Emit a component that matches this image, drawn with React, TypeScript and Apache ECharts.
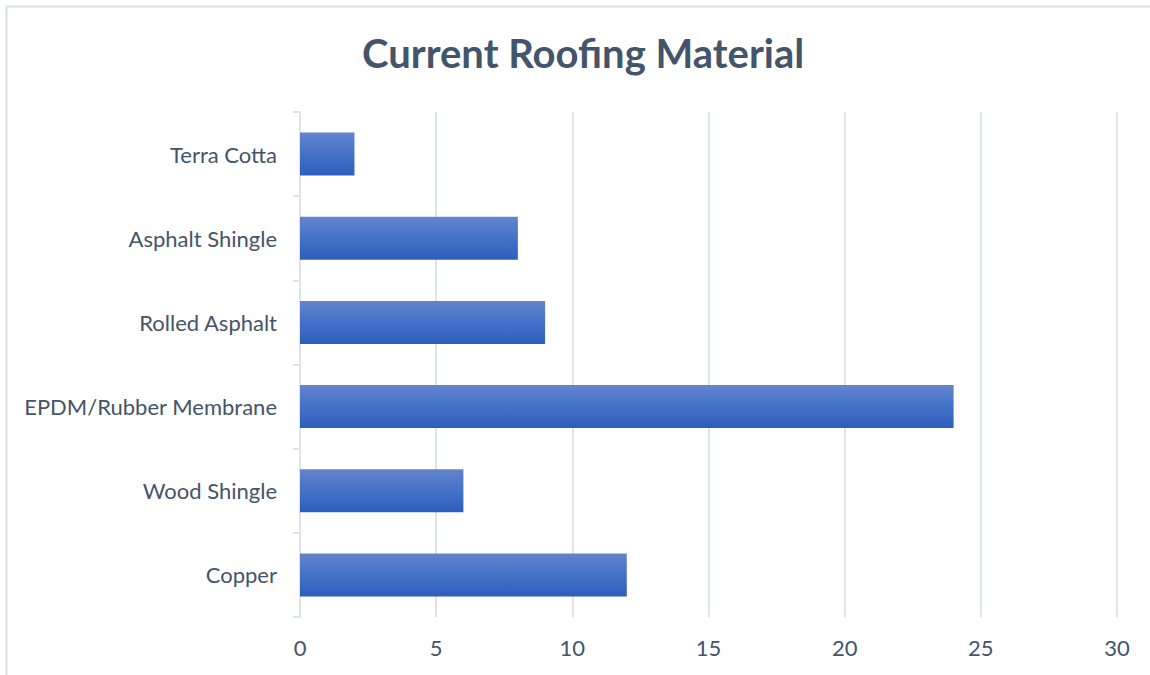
import React, { useEffect, useRef } from "react";
import * as echarts from "echarts";

const categories = ["Copper", "Wood Shingle", "EPDM/Rubber Membrane", "Rolled Asphalt", "Asphalt Shingle", "Terra Cotta"];
const values = [12, 6, 24, 9, 8, 2];
const xTicks = { min: 0, max: 30, interval: 5 };
const title = "Current Roofing Material";

export default function App() {
  const ref = useRef<HTMLDivElement>(null);
  useEffect(() => {
    const chart = echarts.init(ref.current!, null, { renderer: "svg" });
    const font = "Lato, 'Open Sans', sans-serif";
    const textColor = "#44546A";
    chart.setOption({
      animation: false,
      backgroundColor: "#ffffff",
      title: {
        text: title,
        left: 362,
        top: 33,
        padding: 0,
        textStyle: { fontFamily: font, fontSize: 40, fontWeight: "bold", color: textColor },
      },
      graphic: [
        {
          type: "rect",
          shape: { x: 6.5, y: 6.5, width: 1300, height: 800 },
          style: { fill: "none", stroke: "#DADFE6", lineWidth: 2 },
          silent: true,
        },
      ],
      grid: { left: 300, right: 33, top: 112, bottom: 58, containLabel: false },
      xAxis: {
        type: "value",
        min: xTicks.min,
        max: xTicks.max,
        interval: xTicks.interval,
        axisLine: { show: false },
        axisTick: { show: false },
        axisLabel: { fontFamily: font, fontSize: 22, color: textColor, margin: 19 },
        splitLine: { show: true, lineStyle: { color: "#DFE3EA", width: 2 } },
      },
      yAxis: {
        type: "category",
        data: categories,
        axisLine: { show: true, lineStyle: { color: "#DFE3EA", width: 2 } },
        axisTick: { show: true, length: 7, lineStyle: { color: "#DFE3EA", width: 2 } },
        axisLabel: { fontFamily: font, fontSize: 22, color: textColor, margin: 23 },
      },
      series: [
        {
          type: "bar",
          data: values,
          barCategoryGap: "49%",
          itemStyle: {
            color: new echarts.graphic.LinearGradient(0, 0, 0, 1, [
              { offset: 0, color: "#6384CD" },
              { offset: 0.5, color: "#4472C8" },
              { offset: 1, color: "#2D5EBD" },
            ]),
          },
        },
      ],
    });
    return () => chart.dispose();
  }, []);
  return <div ref={ref} style={{ position: "absolute", left: 0, top: 0, width: 1150, height: 675 }} />;
}
